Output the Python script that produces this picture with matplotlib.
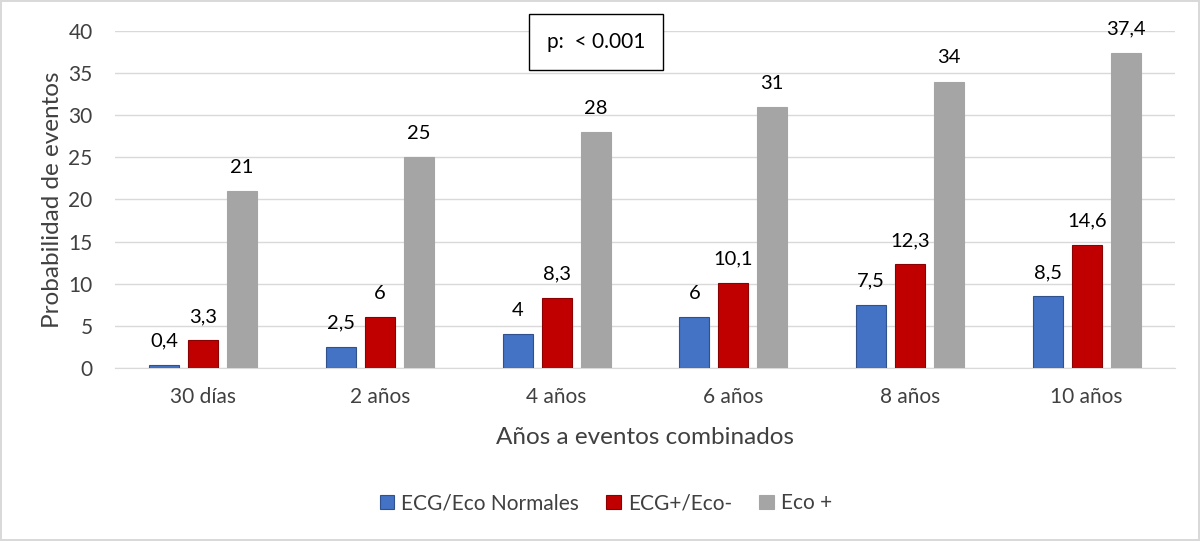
import matplotlib.pyplot as plt
import numpy as np

plt.rcParams['font.family'] = ['Lato', 'DejaVu Sans']

categories = ['30 días', '2 años', '4 años', '6 años', '8 años', '10 años']
normales = [0.4, 2.5, 4, 6, 7.5, 8.5]
ecg_pos = [3.3, 6, 8.3, 10.1, 12.3, 14.6]
eco_pos = [21, 25, 28, 31, 34, 37.4]
series_names = ['ECG/Eco Normales', 'ECG+/Eco-', 'Eco +']

colors = ['#4472C4', '#C00000', '#A5A5A5']
edges = ['#2F528F', '#8B0000', '#A5A5A5']


def fmt(v):
    s = f'{v:g}'
    return s.replace('.', ',')


fig = plt.figure(figsize=(12, 5.41), dpi=100)
fig.patch.set_edgecolor('#D9D9D9')
fig.patch.set_linewidth(1.5)
ax = fig.add_axes([0.0958, 0.3198, 0.8834, 0.6229])

x = np.arange(len(categories))
width = 0.17
offsets = [-0.22, 0, 0.22]
for vals, off, c, ec, name in zip([normales, ecg_pos, eco_pos], offsets, colors, edges, series_names):
    bars = ax.bar(x + off, vals, width, color=c, edgecolor=ec, linewidth=0.8, label=name, zorder=3)
    for b, v in zip(bars, vals):
        ax.annotate(fmt(v), (b.get_x() + b.get_width() / 2, v), xytext=(0, 11),
                    textcoords='offset points', ha='center', va='bottom',
                    fontsize=14.5, color='#000000')

ax.set_xlim(-0.5, len(categories) - 0.5)
ax.set_ylim(0, 40)
ax.set_yticks(range(0, 41, 5))
ax.set_xticks(x)
ax.set_xticklabels(categories)
ax.tick_params(axis='both', labelsize=15, colors='#404040', length=0)
ax.tick_params(axis='x', pad=14)
ax.tick_params(axis='y', pad=16)
ax.grid(axis='y', color='#D9D9D9', linewidth=1, zorder=0)
for s in ['top', 'right', 'left']:
    ax.spines[s].set_visible(False)
ax.spines['bottom'].set_color('#D9D9D9')

ax.set_xlabel('Años a eventos combinados', fontsize=17.5, color='#404040', labelpad=14)
ax.set_ylabel('Probabilidad de eventos', fontsize=17.5, color='#404040', labelpad=4)

fig.text(0.4967, 0.922, 'p:  < 0.001', fontsize=15, ha='center', va='center',
         bbox=dict(boxstyle='square,pad=0.85', facecolor='white', edgecolor='#000000', linewidth=1))

fig.legend(loc='center', bbox_to_anchor=(0.505, 0.07), ncol=3, frameon=False,
           fontsize=15, handlelength=0.7, handleheight=0.7, columnspacing=1.3,
           handletextpad=0.35, labelcolor='#404040')

fig.savefig('out.png', dpi=100)
